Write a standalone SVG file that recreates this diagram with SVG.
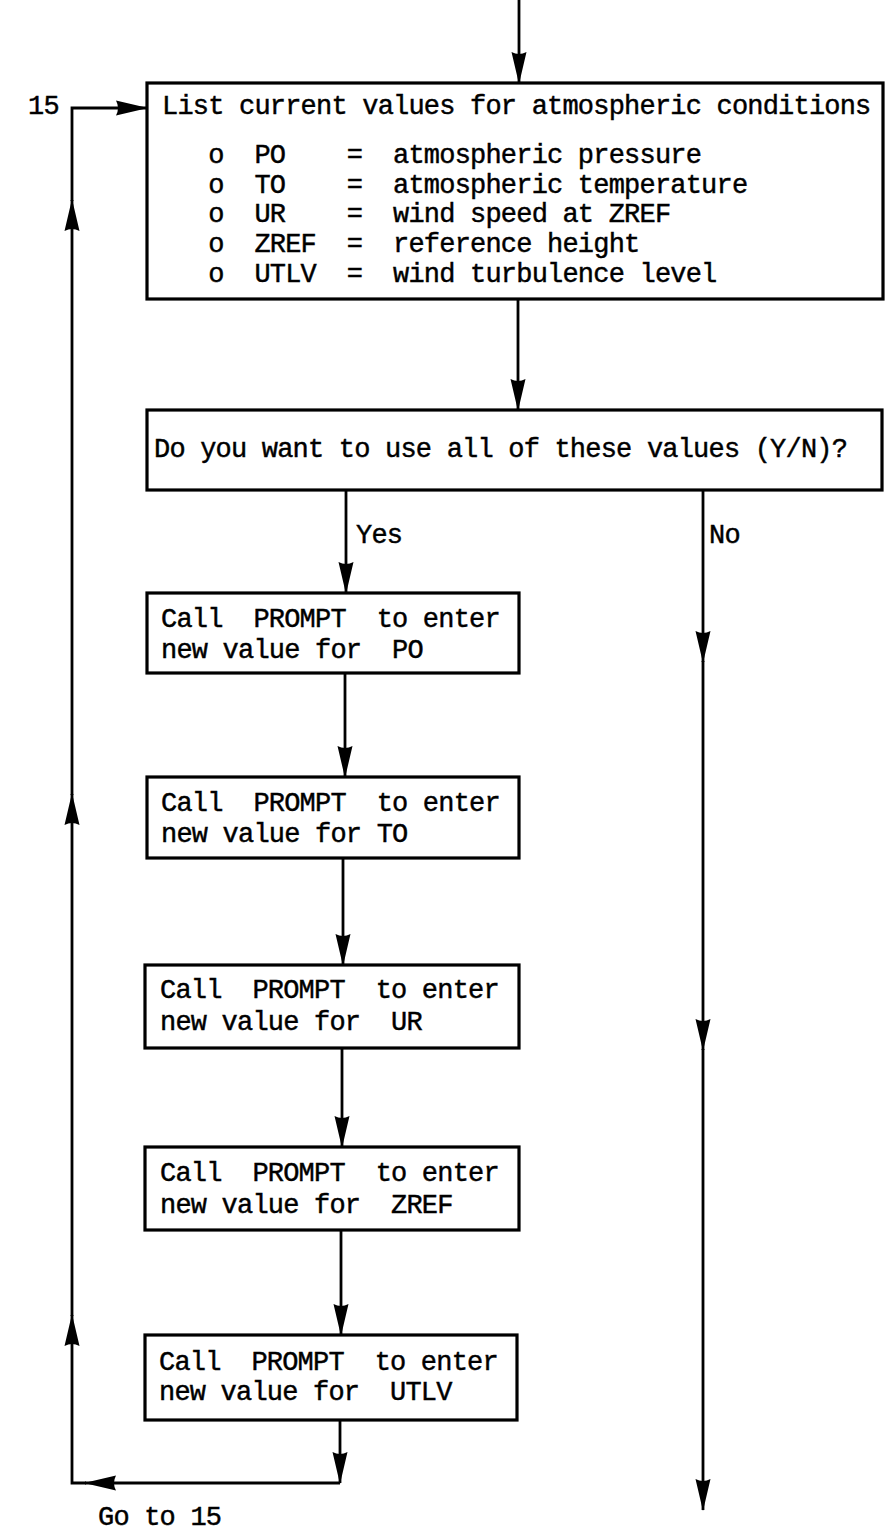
<svg xmlns="http://www.w3.org/2000/svg" width="886" height="1530" viewBox="0 0 886 1530">
<style>
.box{fill:#fff;stroke:#000;stroke-width:3.2}
.t{font-family:"Liberation Mono","DejaVu Sans Mono",monospace;font-size:27px;letter-spacing:-0.8px;fill:#000;stroke:#000;stroke-width:0.45;white-space:pre}
.c{fill:none;stroke:#000;stroke-width:2.8}
</style>
<defs>
<marker id="ah" markerUnits="userSpaceOnUse" viewBox="0 0 32 16" refX="31" refY="8" markerWidth="32" markerHeight="16" orient="auto">
<path d="M0,0.5 L32,8 L0,15.5 Q4,8 0,0.5 Z" fill="#000"/>
</marker>
</defs>
<g id="connectors">
<path class="c" d="M519,0 V83" marker-end="url(#ah)"/>
<path class="c" d="M518,299 V410" marker-end="url(#ah)"/>
<path class="c" d="M346,490 V593" marker-end="url(#ah)"/>
<path class="c" d="M345,673 V777" marker-end="url(#ah)"/>
<path class="c" d="M343,858 V965" marker-end="url(#ah)"/>
<path class="c" d="M342,1048 V1147" marker-end="url(#ah)"/>
<path class="c" d="M341,1230 V1335" marker-end="url(#ah)"/>
<path class="c" d="M340,1420 V1483" marker-end="url(#ah)"/>
<path class="c" d="M340,1483 H85" marker-end="url(#ah)"/>
<path class="c" d="M86,1483 H72 V1315" marker-end="url(#ah)"/>
<path class="c" d="M72,1316 V794" marker-end="url(#ah)"/>
<path class="c" d="M72,795 V200" marker-end="url(#ah)"/>
<path class="c" d="M72,201 V108 H147" marker-end="url(#ah)"/>
<path class="c" d="M703,490 V662" marker-end="url(#ah)"/>
<path class="c" d="M703,661 V1050" marker-end="url(#ah)"/>
<path class="c" d="M703,1049 V1510" marker-end="url(#ah)"/>
<text class="t" x="356" y="543">Yes</text>
<text class="t" x="709" y="543">No</text>
<text class="t" x="28" y="114">15</text>
<text class="t" x="98" y="1525">Go to 15</text>
</g>
<g id="list-values">
<rect class="box" x="147" y="83" width="736" height="216"/>
<text class="t" x="162" y="114">List current values for atmospheric conditions</text>
<text class="t" x="162" y="163">   o  PO    =  atmospheric pressure</text>
<text class="t" x="162" y="192.5">   o  TO    =  atmospheric temperature</text>
<text class="t" x="162" y="222">   o  UR    =  wind speed at ZREF</text>
<text class="t" x="162" y="252">   o  ZREF  =  reference height</text>
<text class="t" x="162" y="281.5">   o  UTLV  =  wind turbulence level</text>
</g>
<g id="use-all">
<rect class="box" x="147" y="410" width="735" height="80"/>
<text class="t" x="154" y="457">Do you want to use all of these values (Y/N)?</text>
</g>
<g id="prompt-po">
<rect class="box" x="147" y="593" width="372" height="80"/>
<text class="t" x="161" y="627">Call  PROMPT  to enter</text>
<text class="t" x="161" y="658">new value for  PO</text>
</g>
<g id="prompt-to">
<rect class="box" x="147" y="777" width="372" height="81"/>
<text class="t" x="161" y="811">Call  PROMPT  to enter</text>
<text class="t" x="161" y="842">new value for TO</text>
</g>
<g id="prompt-ur">
<rect class="box" x="145" y="965" width="374" height="83"/>
<text class="t" x="160" y="998">Call  PROMPT  to enter</text>
<text class="t" x="160" y="1030">new value for  UR</text>
</g>
<g id="prompt-zref">
<rect class="box" x="145" y="1147" width="374" height="83"/>
<text class="t" x="160" y="1181">Call  PROMPT  to enter</text>
<text class="t" x="160" y="1213">new value for  ZREF</text>
</g>
<g id="prompt-utlv">
<rect class="box" x="145" y="1335" width="372" height="85"/>
<text class="t" x="159" y="1370">Call  PROMPT  to enter</text>
<text class="t" x="159" y="1400">new value for  UTLV</text>
</g>
</svg>
